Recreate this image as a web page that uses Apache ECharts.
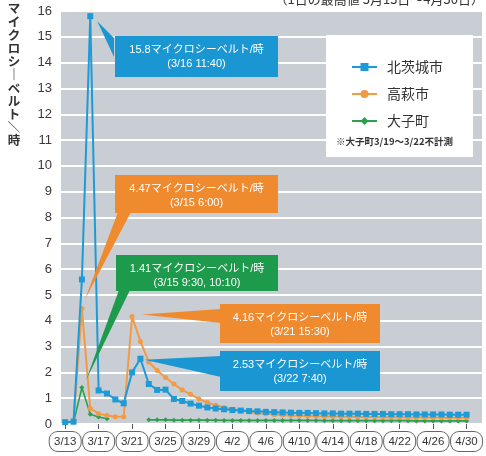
<!DOCTYPE html>
<html>
<head>
<meta charset="utf-8">
<script src="https://cdn.jsdelivr.net/npm/echarts@6/dist/echarts.min.js"></script>
<style>
html,body{margin:0;padding:0;background:#fff;}
#chart{width:486px;height:456px;}
</style>
</head>
<body>
<div id="chart"></div>
<script>
// Daily maximum air dose rate, 3/13 - 4/30 (μSv/h)
const dates = [
  '3/13','3/14','3/15','3/16','3/17','3/18','3/19','3/20','3/21','3/22',
  '3/23','3/24','3/25','3/26','3/27','3/28','3/29','3/30','3/31','4/1',
  '4/2','4/3','4/4','4/5','4/6','4/7','4/8','4/9','4/10','4/11',
  '4/12','4/13','4/14','4/15','4/16','4/17','4/18','4/19','4/20','4/21',
  '4/22','4/23','4/24','4/25','4/26','4/27','4/28','4/29','4/30'
];
const seriesNames = ['北茨城市', '高萩市', '大子町'];
const kitaibaraki = [
  0.07, 0.09, 5.6, 15.8, 1.3, 1.18, 0.95, 0.8, 2.0, 2.53,
  1.55, 1.32, 1.33, 0.97, 0.89, 0.79, 0.71, 0.64, 0.6, 0.57,
  0.54, 0.52, 0.5, 0.49, 0.47, 0.46, 0.45, 0.44, 0.43, 0.43,
  0.42, 0.41, 0.41, 0.4, 0.4, 0.4, 0.39, 0.39, 0.39, 0.38,
  0.38, 0.38, 0.37, 0.37, 0.37, 0.37, 0.36, 0.36, 0.36
];
const takahagi = [
  0.07, 0.08, 4.47, 0.6, 0.4, 0.33, 0.28, 0.28, 4.16, 3.2,
  2.4, 2.07, 1.8, 1.55, 1.32, 1.15, 0.97, 0.83, 0.73, 0.64,
  0.57, 0.52, 0.47, 0.43, 0.4, 0.37, 0.35, 0.33, 0.32, 0.31,
  0.3, 0.29, 0.29, 0.28, 0.28, 0.27, 0.27, 0.27, 0.26, 0.26,
  0.26, 0.25, 0.25, 0.25, 0.25, 0.24, 0.24, 0.24, 0.24
];
// 大子町: no measurement 3/19 - 3/22
const daigo = [
  0.06, 0.07, 1.41, 0.38, 0.27, 0.2, null, null, null, null,
  0.16, 0.16, 0.16, 0.15, 0.15, 0.15, 0.15, 0.15, 0.15, 0.14,
  0.14, 0.14, 0.14, 0.14, 0.14, 0.14, 0.14, 0.14, 0.14, 0.14,
  0.14, 0.13, 0.13, 0.13, 0.13, 0.13, 0.13, 0.13, 0.13, 0.13,
  0.13, 0.13, 0.12, 0.12, 0.12, 0.12, 0.12, 0.12, 0.12
];
// Peak notes: [series index, data index, time]
const peakNotes = [
  [0, 3, '(3/16 11:40)'],
  [1, 2, '(3/15 6:00)'],
  [2, 2, '(3/15 9:30, 10:10)'],
  [1, 8, '(3/21 15:30)'],
  [0, 9, '(3/22 7:40)']
];
const yAxisTitle = ['マ', 'イ', 'ク', 'ロ', 'シ', '｜', 'ベ', 'ル', 'ト', '＼', '時'];
const periodTitle = '（1日の最高値 3月13日～4月30日）';
const legendNote = '※大子町3/19〜3/22不計測';

const FONT = "'Liberation Sans','Noto Sans CJK JP',sans-serif";
const JP = "'Noto Sans CJK JP','Liberation Sans',sans-serif";
const lineColors = ['#1e9ad6', '#f39a45', '#2e9e4f'];
const boxColors = ['#1a97d3', '#f08a2e', '#1d9a4b'];
const symbols = ['rect', 'circle', 'diamond'];
const symbolSizes = [6, 5, 5];
const allSeries = [kitaibaraki, takahagi, daigo];

const chart = echarts.init(document.getElementById('chart'), null, { renderer: 'canvas' });

const option = {
  animation: false,
  textStyle: { fontFamily: FONT },
  grid: [
    { left: 61, top: 11, bottom: 32, width: 414 },
    { left: 61, top: 11, bottom: 32, right: 4, show: true, backgroundColor: '#c8ced4', borderWidth: 0 }
  ],
  xAxis: [
    {
      gridIndex: 0, type: 'category', data: dates, boundaryGap: true,
      axisLine: { show: false },
      axisTick: { show: true, interval: 3, alignWithLabel: true, length: 5, lineStyle: { color: '#555', width: 1 } },
      axisLabel: {
        interval: 3, margin: 8, fontSize: 11.5, color: '#333', fontFamily: FONT,
        backgroundColor: '#fff', borderColor: '#666', borderWidth: 1, borderRadius: 8,
        padding: [3, 2, 2, 2], width: 27, lineHeight: 14, align: 'center'
      },
      splitLine: { show: false }
    },
    { gridIndex: 1, type: 'value', min: 0, max: 1, show: false }
  ],
  yAxis: [
    { gridIndex: 0, type: 'value', min: 0, max: 16, interval: 1, show: false },
    {
      gridIndex: 1, type: 'value', min: 0, max: 16, interval: 1,
      axisLine: { show: false }, axisTick: { show: false },
      axisLabel: { fontSize: 13, color: '#3a3a3a', margin: 9, fontFamily: FONT },
      splitLine: { show: true, lineStyle: { color: '#ffffff', width: 2 } }
    }
  ],
  legend: {
    data: seriesNames, orient: 'vertical', left: 346, top: 55,
    itemWidth: 25, itemHeight: 10, itemGap: 13,
    textStyle: { fontSize: 14, color: '#333', fontFamily: JP, padding: [0, 0, 0, 5] },
    z: 6
  },
  series: allSeries.map((vals, k) => ({
    name: seriesNames[k], type: 'line', xAxisIndex: 0, yAxisIndex: 0,
    data: vals, connectNulls: false,
    symbol: symbols[k], symbolSize: symbolSizes[k], showSymbol: true, showAllSymbol: true,
    lineStyle: { color: lineColors[k], width: k === 2 ? 1.6 : 2 },
    itemStyle: { color: lineColors[k] },
    z: 5 - k * 0.1
  }))
};
chart.setOption(option);

// Static texts and boxes
const elements = [
  {
    type: 'text', z: 20,
    style: { text: periodTitle, x: 484, y: -1, textAlign: 'right', textVerticalAlign: 'middle', font: '13px ' + JP, fill: '#333' }
  },
  {
    type: 'text', z: 20,
    style: { text: yAxisTitle.join('\n'), x: 14, y: 2, textAlign: 'center', textVerticalAlign: 'top', font: 'bold 12.5px ' + JP, lineHeight: 13.2, fill: '#333' }
  },
  {
    type: 'rect', z: 5,
    shape: { x: 326, y: 35, width: 147, height: 122 },
    style: { fill: '#ffffff' }
  },
  {
    type: 'text', z: 20,
    style: { text: legendNote, x: 336, y: 141, textAlign: 'left', textVerticalAlign: 'middle', font: 'bold 9.5px ' + JP, fill: '#333' }
  }
];

// Callout boxes with pointers for each peak
const noteLayout = [
  { box: [115, 36, 163, 41], base: [[114, 38], [114, 57]], tip: [7, 5] },
  { box: [115, 175, 163, 38], base: [[118, 212], [131, 212]], tip: [3, -9] },
  { box: [116, 255, 162, 36], base: [[119, 290], [130, 290]], tip: [4, -7] },
  { box: [220, 304, 160, 39], base: [[221, 309], [221, 323]], tip: [10, -2] },
  { box: [220, 351, 160, 40], base: [[221, 356], [221, 377]], tip: [4, 1] }
];

peakNotes.forEach((note, n) => {
  const [s, idx, time] = note;
  const v = allSeries[s][idx];
  const p = chart.convertToPixel({ xAxisIndex: 0, yAxisIndex: 0 }, [idx, v]);
  const L = noteLayout[n];
  const [bx, by, bw, bh] = L.box;
  const color = boxColors[s];
  elements.push({
    type: 'polygon', z: 30,
    shape: { points: [[p[0] + L.tip[0], p[1] + L.tip[1]], L.base[0], L.base[1]] },
    style: { fill: color }
  });
  elements.push({
    type: 'rect', z: 30,
    shape: { x: bx, y: by, width: bw, height: bh },
    style: { fill: color }
  });
  elements.push({
    type: 'text', z: 31,
    style: { text: v + 'マイクロシーベルト/時', x: bx + bw / 2, y: by + 13.5, textAlign: 'center', textVerticalAlign: 'middle', font: '11px ' + FONT, fill: '#fff' }
  });
  elements.push({
    type: 'text', z: 31,
    style: { text: time, x: bx + bw / 2, y: by + 27.5, textAlign: 'center', textVerticalAlign: 'middle', font: '11px ' + FONT, fill: '#fff' }
  });
});

chart.setOption({ graphic: { elements: elements } });
</script>
</body>
</html>
